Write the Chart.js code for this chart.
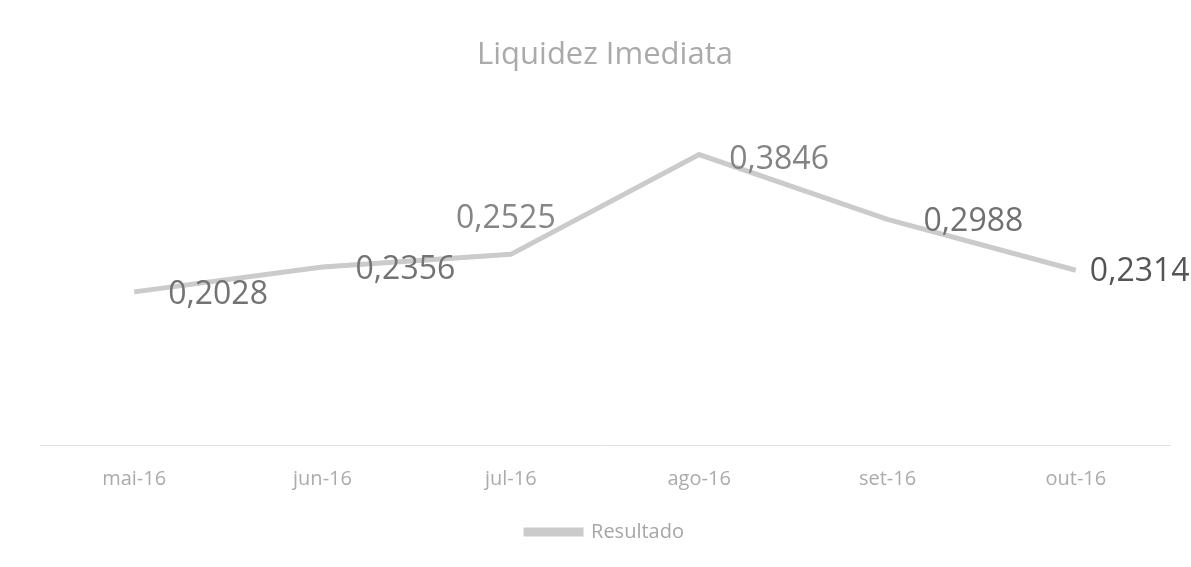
<!DOCTYPE html>
<html>
<head>
<meta charset="utf-8">
<script src="https://cdn.jsdelivr.net/npm/chart.js@4.4.1/dist/chart.umd.min.js"></script>
<style>
  html, body { margin: 0; padding: 0; background: #ffffff; }
  #wrap { width: 1191px; height: 567px; position: relative; }
</style>
</head>
<body>
<div id="wrap"><canvas id="c" width="1191" height="567"></canvas></div>
<script>
const categories = ["mai-16", "jun-16", "jul-16", "ago-16", "set-16", "out-16"];
const resultado = [0.2028, 0.2356, 0.2525, 0.3846, 0.2988, 0.2314];
const seriesName = "Resultado";
const chartTitle = "Liquidez Imediata";

// label placement (offset from point, px) and colours — style only
const labelPlacement = [
  { dx: 34, dy: 3, align: "left" },
  { dx: 33, dy: 3, align: "left" },
  { dx: -5, dy: -35, align: "center" },
  { dx: 30, dy: 5, align: "left" },
  { dx: 36, dy: 3, align: "left" },
  { dx: 14, dy: 2, align: "left" }
];
const labelColors = ["#737373", "#737373", "#858585", "#838383", "#707070", "#555555"];

function fmt(v) { return v.toFixed(4).replace(".", ","); }

const dataLabels = {
  id: "dataLabels",
  afterDatasetsDraw(chart) {
    const ctx = chart.ctx;
    const meta = chart.getDatasetMeta(0);
    ctx.save();
    ctx.font = "32px 'Open Sans', 'Liberation Sans', sans-serif";
    ctx.textBaseline = "middle";
    meta.data.forEach((pt, i) => {
      const p = labelPlacement[i];
      ctx.textAlign = p.align;
      ctx.fillStyle = labelColors[i];
      ctx.fillText(fmt(resultado[i]), pt.x + p.dx, pt.y + p.dy);
    });
    ctx.restore();
  }
};

new Chart(document.getElementById("c"), {
  type: "line",
  data: {
    labels: categories,
    datasets: [{
      label: seriesName,
      data: resultado,
      borderColor: "#cbcbcb",
      backgroundColor: "#cbcbcb",
      borderWidth: 5,
      pointRadius: 0,
      tension: 0,
      fill: false
    }]
  },
  options: {
    responsive: false,
    animation: false,
    layout: { padding: { left: 40, right: 21, top: 0, bottom: 15 } },
    plugins: {
      title: {
        display: true,
        text: chartTitle,
        color: "#aaaaaa",
        font: { family: "'Open Sans', 'Liberation Sans', sans-serif", size: 31, weight: "normal" },
        padding: { top: 37, bottom: 31 }
      },
      legend: {
        display: true,
        position: "bottom",
        labels: {
          color: "#a6a6a6",
          font: { family: "'Open Sans', 'Liberation Sans', sans-serif", size: 20 },
          boxWidth: 55,
          boxHeight: 4,
          padding: 10
        }
      },
      tooltip: { enabled: false }
    },
    scales: {
      x: {
        offset: true,
        grid: { display: false, drawTicks: false },
        border: { display: true, color: "#e2e2e2", width: 1 },
        ticks: {
          color: "#ababab",
          font: { family: "'Open Sans', 'Liberation Sans', sans-serif", size: 20 },
          padding: 22
        },
        afterFit(scale) { scale.height = 67; }
      },
      y: {
        display: false,
        min: 0,
        max: 0.45
      }
    }
  },
  plugins: [dataLabels]
});
</script>
</body>
</html>
